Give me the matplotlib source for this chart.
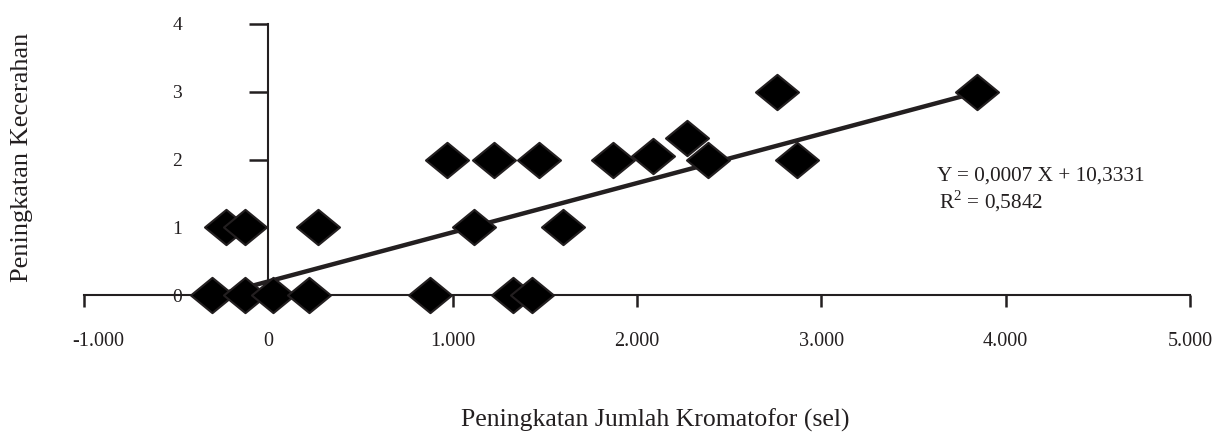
import matplotlib.pyplot as plt
import matplotlib.transforms as mtransforms
from matplotlib.path import Path
import numpy as np

# data
x_vals = [-303, -227, -124, -124, 27, 222, 270, 876, 968, 1114, 1222,
          1330, 1432, 1470, 1600, 1870, 2086, 2270, 2384, 2757, 2870, 3843]
y_vals = [0, 1, 1, 0, 0, 0, 1, 0, 2, 1, 2,
          0, 0, 2, 1, 2, 2.05, 2.32, 2, 3, 2, 3]
trend_x = [-303, 3843]
trend_y = [-0.02, 2.99]

x_ticks = [-1000, 0, 1000, 2000, 3000, 4000, 5000]
x_tick_labels = ['-1.000', '0', '1.000', '2.000', '3.000', '4.000', '5.000']
y_ticks = [0, 1, 2, 3, 4]
y_tick_labels = ['0', '1', '2', '3', '4']

eq_text = 'Y = 0,0007 X + 10,3331'
r2_text = 'R$^2$ = 0,5842'

plt.rcParams['font.family'] = ['Liberation Serif', 'DejaVu Serif']
plt.rcParams['mathtext.fontset'] = 'custom'
plt.rcParams['mathtext.rm'] = 'Liberation Serif'
dark = '#231f20'

fig = plt.figure(figsize=(12.24, 4.37), dpi=100)
ax = fig.add_axes([84/1224, 1 - 295/437, (1190 - 84)/1224, (295 - 24)/437])

# wide diamond marker
diamond = Path([(-1, 0), (0, 0.82), (1, 0), (0, -0.82), (-1, 0)],
               [Path.MOVETO, Path.LINETO, Path.LINETO, Path.LINETO, Path.CLOSEPOLY])

ax.plot(trend_x, trend_y, color=dark, lw=3.2, zorder=2, clip_on=False,
        solid_capstyle='butt')
ax.plot(x_vals, y_vals, ls='none', marker=diamond, ms=31, mfc='black',
        mec=dark, mew=1.5, zorder=3, clip_on=False)

ax.set_xlim(-1000, 5000)
ax.set_ylim(0, 4)
ax.spines['left'].set_position(('data', 0))
ax.spines['bottom'].set_position(('data', 0))
ax.spines['top'].set_visible(False)
ax.spines['right'].set_visible(False)
for s in ['left', 'bottom']:
    ax.spines[s].set_linewidth(1.5)
    ax.spines[s].set_color(dark)

ax.set_xticks(x_ticks)
ax.set_xticklabels(x_tick_labels)
ax.set_yticks(y_ticks)
ax.set_yticklabels(y_tick_labels)
ax.tick_params(axis='y', direction='out', length=13.5, width=1.8, color=dark,
               pad=48.5, labelsize=14, labelcolor=dark)
ax.tick_params(axis='x', direction='out', length=8.5, width=1.8, color=dark,
               pad=18.5, labelsize=14.5, labelcolor=dark)

# first x label sits a bit right of its tick
lbl = ax.get_xticklabels()[0]
lbl.set_transform(lbl.get_transform() +
                  mtransforms.ScaledTranslation(14/100, 0, fig.dpi_scale_trans))

ax.text(3627, 1.76, eq_text, fontsize=15.3, color=dark, va='center', ha='left')
ax.text(3640, 1.38, r2_text, fontsize=15.3, color=dark, va='center', ha='left')

fig.text(22/1224, 1 - 157/437, 'Peningkatan Kecerahan', rotation=90,
         fontsize=19, color=dark, ha='center', va='center')
fig.text(655/1224, 1 - 420/437, 'Peningkatan Jumlah Kromatofor (sel)',
         fontsize=18.5, color=dark, ha='center', va='center')

fig.savefig('out.png', dpi=100)
